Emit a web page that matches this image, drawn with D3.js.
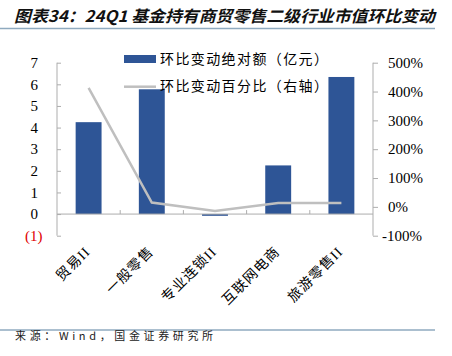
<!DOCTYPE html>
<html><head><meta charset="utf-8">
<script src="https://cdn.jsdelivr.net/npm/d3@7"></script>
<style>body{margin:0;background:#fff}svg{display:block}</style>
</head><body>
<script>
const categories = ["贸易II","一般零售","专业连锁II","互联网电商","旅游零售II"];
const absChange = [4.25, 5.77, -0.08, 2.25, 6.34];      // 亿元
const pctChange = [413, 15, -14, 13, 13];               // %
const leftTicks = [-1,0,1,2,3,4,5,6,7];
const rightTicks = [-100,0,100,200,300,400,500];
const titleText = "图表34：24Q1 基金持有商贸零售二级行业市值环比变动";
const sourceText = "来源：Wind，国金证券研究所";
const legendLabels = ["环比变动绝对额（亿元）","环比变动百分比（右轴）"];

const W=452,H=356;
const svg=d3.select("body").append("svg").attr("width",W).attr("height",H);
const L=57,R=373,T=62.7,B=235.7;
const barColor="#2E5596", lineColor="#BFBFBF", axisColor="#ADADAD";
const serif="'Liberation Serif','Times New Roman',serif";
const cjk="'Noto Sans CJK SC','Noto Sans',sans-serif";

// title
svg.append("text").attr("x",14).attr("y",22).text(titleText)
  .attr("font-family",cjk).attr("font-size",16).attr("font-weight","bold").attr("font-style","italic")
  .attr("textLength",421).attr("lengthAdjust","spacingAndGlyphs").attr("fill","#111");
svg.append("line").attr("x1",0).attr("x2",435).attr("y1",28.5).attr("y2",28.5).attr("stroke","#8FAABF").attr("stroke-width",1.5);
svg.append("line").attr("x1",0).attr("x2",435).attr("y1",330).attr("y2",330).attr("stroke","#8FAABF").attr("stroke-width",1.5);
svg.append("text").attr("x",15).attr("y",340).text(sourceText)
  .attr("font-family",cjk).attr("font-size",11).attr("textLength",198).attr("lengthAdjust","spacing").attr("fill","#222");

const x=d3.scaleBand().domain(categories).range([L,R]).paddingInner(0.59).paddingOuter(0.295);
const yL=d3.scaleLinear().domain([-1,7]).range([B,T]);
const yR=d3.scaleLinear().domain([-100,500]).range([B,T]);

// bars
svg.append("g").selectAll("rect").data(absChange).join("rect")
  .attr("x",(d,i)=>x(categories[i])).attr("width",x.bandwidth())
  .attr("y",d=>yL(Math.max(0,d))).attr("height",d=>Math.abs(yL(d)-yL(0)))
  .attr("fill",barColor);

// left axis
const gl=svg.append("g").attr("transform",`translate(${L},0)`)
  .call(d3.axisRight(yL).tickValues(leftTicks).tickSize(4).tickFormat(""));
gl.selectAll("path,line").attr("stroke",axisColor);
gl.select(".domain").attr("d",`M0,${T}V${B}`);
svg.append("g").selectAll("text").data(leftTicks).join("text")
  .attr("x",d=>d<0?42.5:38).attr("y",d=>yL(d)).attr("dy","0.35em")
  .attr("text-anchor","end").attr("font-family",serif).attr("font-size",15)
  .attr("fill",d=>d<0?"#E00000":"#000").text(d=>d<0?`(${Math.abs(d)})`:d);

// right axis
const gr=svg.append("g").attr("transform",`translate(${R},0)`)
  .call(d3.axisRight(yR).tickValues(rightTicks).tickSize(5).tickFormat(""));
gr.selectAll("path,line").attr("stroke",axisColor);
gr.select(".domain").attr("d",`M0,${T}V${B}`);
svg.append("g").selectAll("text").data(rightTicks).join("text")
  .attr("x",d=>d<0?382:388).attr("y",d=>yR(d)).attr("dy","0.35em")
  .attr("text-anchor","start").attr("font-family",serif).attr("font-size",15)
  .attr("fill","#000").text(d=>d+"%");

// x axis at zero
const y0=yL(0);
const gx=svg.append("g").attr("transform",`translate(0,${y0})`);
gx.append("line").attr("x1",L).attr("x2",R).attr("stroke",axisColor);
const step=x.step();
gx.selectAll("line.t").data(d3.range(1,categories.length)).join("line").attr("class","t")
  .attr("x1",i=>L+i*step).attr("x2",i=>L+i*step).attr("y1",0).attr("y2",-4).attr("stroke",axisColor);

// category labels
svg.append("g").selectAll("text").data(categories).join("text")
  .attr("transform",d=>`translate(${x(d)+x.bandwidth()/2-1},${249}) rotate(-45)`)
  .attr("text-anchor","end").attr("dy","0.35em").attr("font-family",serif+","+cjk)
  .attr("font-size",14).attr("letter-spacing",1).attr("fill","#000").text(d=>d);

// line
const line=d3.line().x((d,i)=>x(categories[i])+x.bandwidth()/2).y(d=>yR(d));
svg.append("path").datum(pctChange).attr("d",line).attr("fill","none")
  .attr("stroke",lineColor).attr("stroke-width",2.5);

// legend
svg.append("rect").attr("x",124).attr("y",55).attr("width",32).attr("height",8).attr("fill",barColor);
svg.append("line").attr("x1",124).attr("x2",156).attr("y1",86.7).attr("y2",86.7).attr("stroke",lineColor).attr("stroke-width",2.5);
legendLabels.forEach((t,i)=>{
  svg.append("text").attr("x",160).attr("y",59+i*27.5).attr("dy","0.35em").text(t)
    .attr("font-family",cjk).attr("font-size",14).attr("textLength",168).attr("lengthAdjust","spacing").attr("fill","#000");
});
</script>
</body></html>
